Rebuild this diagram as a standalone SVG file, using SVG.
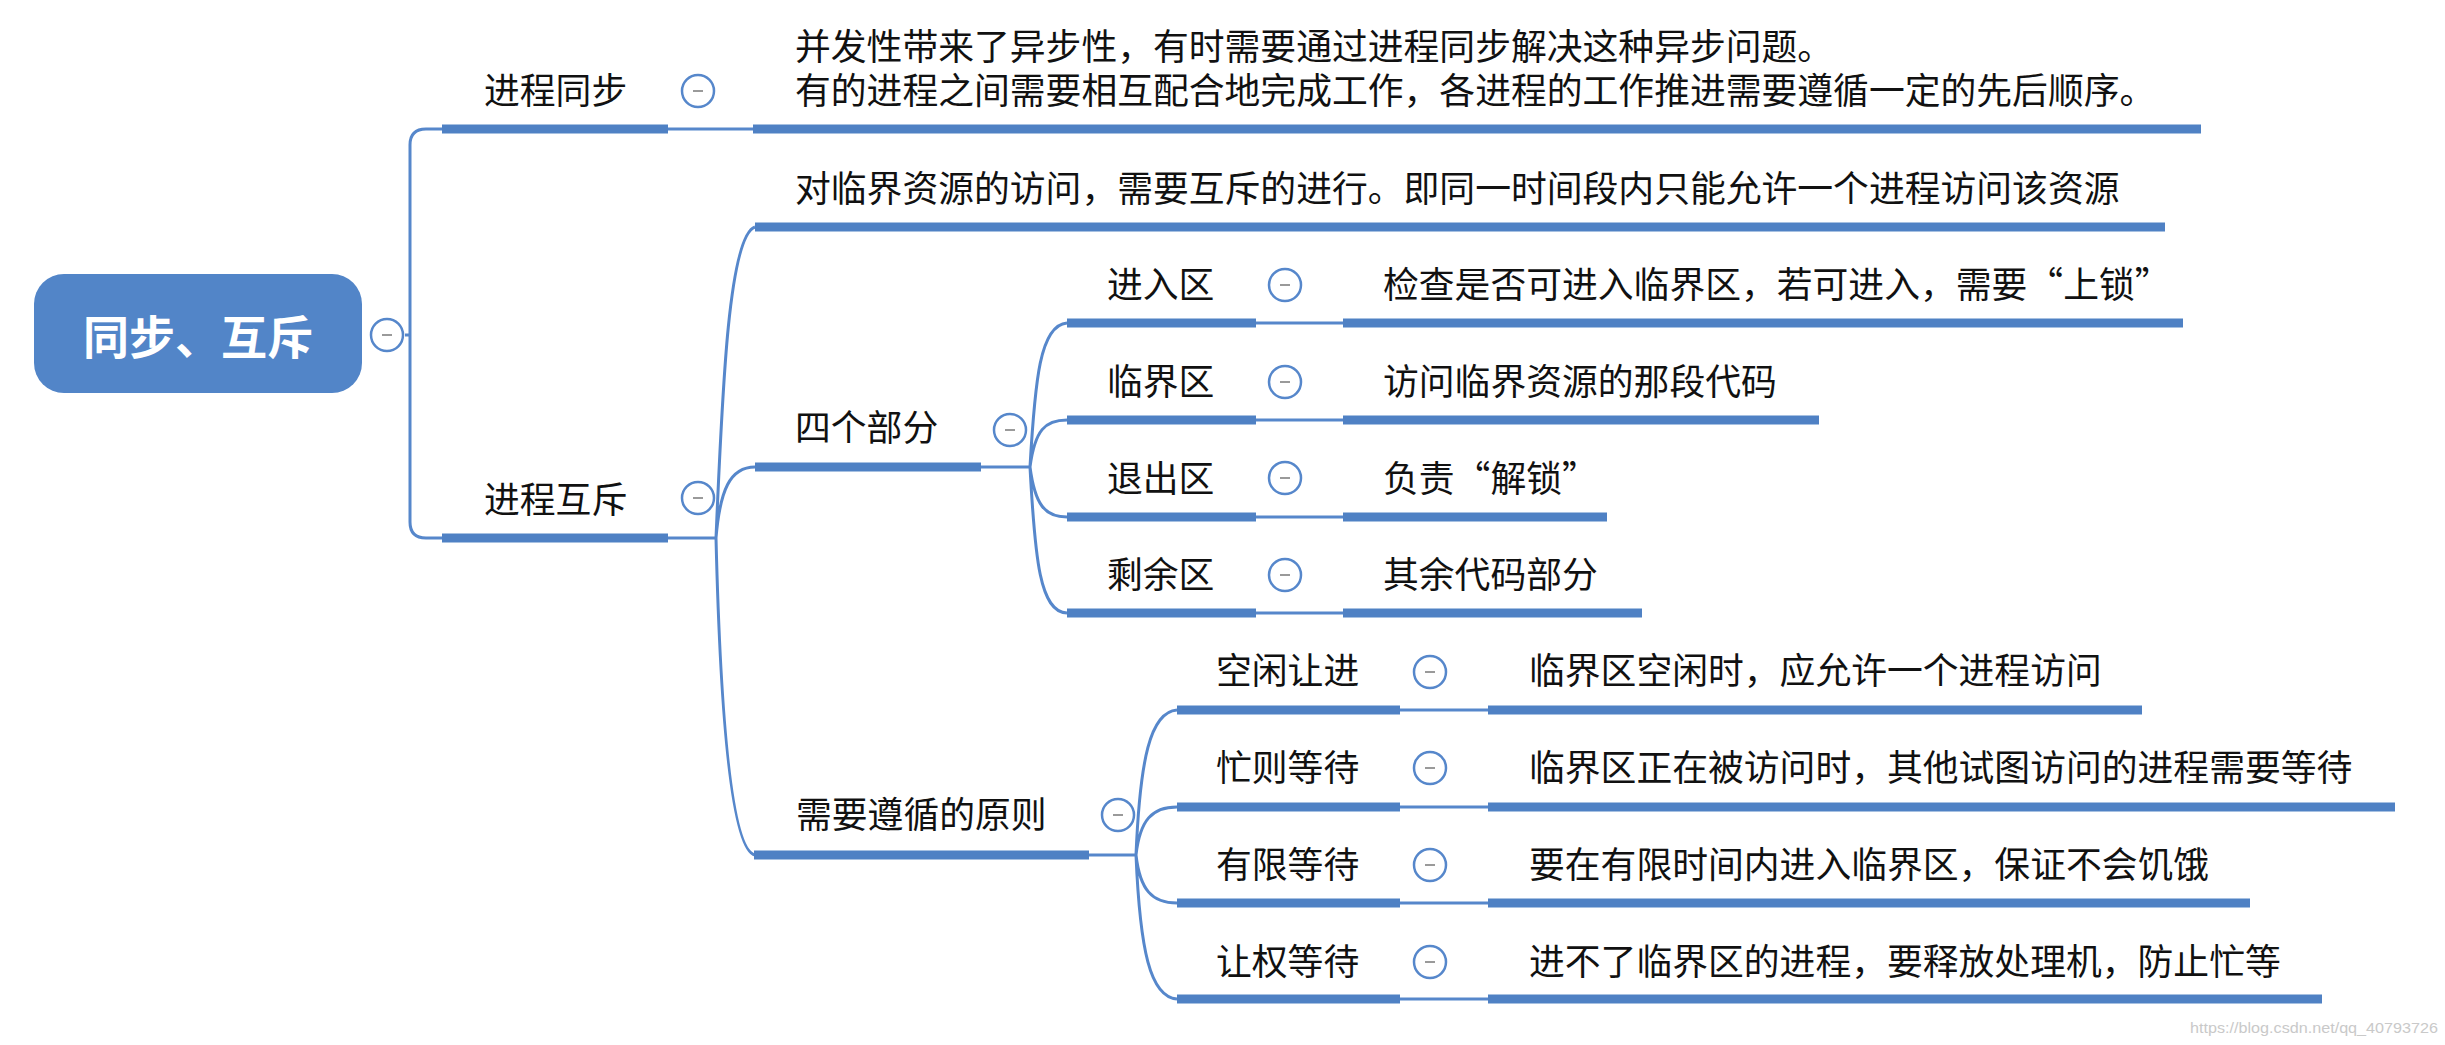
<svg xmlns="http://www.w3.org/2000/svg" width="2445" height="1045" viewBox="0 0 2445 1045">
<style>
.t{font-family:"Noto Sans CJK SC","Noto Sans",sans-serif;font-size:35.8px;fill:#111111}
.root{font-family:"Noto Sans CJK SC","Noto Sans",sans-serif;font-size:46px;font-weight:bold;fill:#ffffff}
.ul{stroke:#4f81c4;stroke-width:9;fill:none}
.c{stroke:#5687cb;stroke-width:3;fill:none}
.tg{fill:#ffffff;stroke:#5687cb;stroke-width:2.5}
.tm{stroke:#9a9a9a;stroke-width:2}
.wm{font-family:"Liberation Sans",sans-serif;font-size:15px;fill:#c9c9c9}
</style>
<defs>
<g id="tog"><circle cx="0" cy="0" r="16" class="tg"/><line x1="-5" y1="0" x2="5" y2="0" class="tm"/></g>
</defs>
<rect width="2445" height="1045" fill="#ffffff"/>
<g id="connectors">
<path class="c" d="M405,335 L410,335 M410,145 Q410,129 426,129 L442,129 M410,145 L410,522 Q410,538 426,538 L442,538"/>
<path class="c" d="M668,129 L753,129"/>
<path class="c" d="M668,538 L716,538 M716,538 C722,400 728,236 755,227 M716,538 C720,490 730,467 755,467 M716,538 C720,700 730,850 755,855"/>
<path class="c" d="M981,467 L1030,467 M1030,467 C1035,380 1040,325 1067,323 M1030,467 C1035,430 1045,420 1067,420 M1030,467 C1035,505 1045,517 1067,517 M1030,467 C1035,560 1040,612 1067,613"/>
<path class="c" d="M1256,323 L1343,323 M1256,420 L1343,420 M1256,517 L1343,517 M1256,613 L1343,613"/>
<path class="c" d="M1089,855 L1136,855 M1136,855 C1140,760 1150,712 1177,710 M1136,855 C1140,820 1152,807 1177,807 M1136,855 C1140,890 1152,903 1177,903 M1136,855 C1140,950 1150,997 1177,999"/>
<path class="c" d="M1400,710 L1488,710 M1400,807 L1488,807 M1400,903 L1488,903 M1400,999 L1488,999"/>
</g>
<g id="root">
<rect x="34" y="274" width="328" height="119" rx="30" ry="30" fill="#5285c8"/>
<text class="root" x="198" y="354" text-anchor="middle">同步、互斥</text>
<use href="#tog" x="387" y="335"/>
</g>
<g id="n-sync">
<text class="t" x="484" y="104">进程同步</text>
<line class="ul" x1="442" y1="129" x2="668" y2="129"/>
<use href="#tog" x="698" y="91"/>
</g>
<g id="n-sync-desc">
<text class="t"><tspan x="795" y="60">并发性带来了异步性，有时需要通过进程同步解决这种异步问题。</tspan><tspan x="795" y="104">有的进程之间需要相互配合地完成工作，各进程的工作推进需要遵循一定的先后顺序。</tspan></text>
<line class="ul" x1="753" y1="129" x2="2201" y2="129"/>
</g>
<g id="n-mutex">
<text class="t" x="484" y="513">进程互斥</text>
<line class="ul" x1="442" y1="538" x2="668" y2="538"/>
<use href="#tog" x="698" y="498"/>
</g>
<g id="n-mutex-desc">
<text class="t" x="795" y="202">对临界资源的访问，需要互斥的进行。即同一时间段内只能允许一个进程访问该资源</text>
<line class="ul" x1="755" y1="227" x2="2165" y2="227"/>
</g>
<g id="n-four">
<text class="t" x="795" y="441">四个部分</text>
<line class="ul" x1="755" y1="467" x2="981" y2="467"/>
<use href="#tog" x="1010" y="430"/>
</g>
<g id="n-entry">
<text class="t" x="1107" y="298">进入区</text>
<line class="ul" x1="1067" y1="323" x2="1256" y2="323"/>
<use href="#tog" x="1285" y="285"/>
</g>
<g id="n-entry-desc">
<text class="t" x="1383" y="298">检查是否可进入临界区，若可进入，需要“上锁”</text>
<line class="ul" x1="1343" y1="323" x2="2183" y2="323"/>
</g>
<g id="n-critical">
<text class="t" x="1107" y="395">临界区</text>
<line class="ul" x1="1067" y1="420" x2="1256" y2="420"/>
<use href="#tog" x="1285" y="382"/>
</g>
<g id="n-critical-desc">
<text class="t" x="1383" y="395">访问临界资源的那段代码</text>
<line class="ul" x1="1343" y1="420" x2="1819" y2="420"/>
</g>
<g id="n-exit">
<text class="t" x="1107" y="492">退出区</text>
<line class="ul" x1="1067" y1="517" x2="1256" y2="517"/>
<use href="#tog" x="1285" y="478"/>
</g>
<g id="n-exit-desc">
<text class="t" x="1383" y="492">负责“解锁”</text>
<line class="ul" x1="1343" y1="517" x2="1607" y2="517"/>
</g>
<g id="n-remainder">
<text class="t" x="1107" y="588">剩余区</text>
<line class="ul" x1="1067" y1="613" x2="1256" y2="613"/>
<use href="#tog" x="1285" y="575"/>
</g>
<g id="n-remainder-desc">
<text class="t" x="1383" y="588">其余代码部分</text>
<line class="ul" x1="1343" y1="613" x2="1642" y2="613"/>
</g>
<g id="n-rules">
<text class="t" x="796" y="828">需要遵循的原则</text>
<line class="ul" x1="754" y1="855" x2="1089" y2="855"/>
<use href="#tog" x="1118" y="815"/>
</g>
<g id="n-idle">
<text class="t" x="1216" y="684">空闲让进</text>
<line class="ul" x1="1177" y1="710" x2="1400" y2="710"/>
<use href="#tog" x="1430" y="672"/>
</g>
<g id="n-idle-desc">
<text class="t" x="1529" y="684">临界区空闲时，应允许一个进程访问</text>
<line class="ul" x1="1488" y1="710" x2="2142" y2="710"/>
</g>
<g id="n-busy">
<text class="t" x="1216" y="781">忙则等待</text>
<line class="ul" x1="1177" y1="807" x2="1400" y2="807"/>
<use href="#tog" x="1430" y="768"/>
</g>
<g id="n-busy-desc">
<text class="t" x="1529" y="781">临界区正在被访问时，其他试图访问的进程需要等待</text>
<line class="ul" x1="1488" y1="807" x2="2395" y2="807"/>
</g>
<g id="n-bounded">
<text class="t" x="1216" y="878">有限等待</text>
<line class="ul" x1="1177" y1="903" x2="1400" y2="903"/>
<use href="#tog" x="1430" y="865"/>
</g>
<g id="n-bounded-desc">
<text class="t" x="1529" y="878">要在有限时间内进入临界区，保证不会饥饿</text>
<line class="ul" x1="1488" y1="903" x2="2250" y2="903"/>
</g>
<g id="n-yield">
<text class="t" x="1216" y="975">让权等待</text>
<line class="ul" x1="1177" y1="999" x2="1400" y2="999"/>
<use href="#tog" x="1430" y="962"/>
</g>
<g id="n-yield-desc">
<text class="t" x="1529" y="975">进不了临界区的进程，要释放处理机，防止忙等</text>
<line class="ul" x1="1488" y1="999" x2="2322" y2="999"/>
</g>
<text class="wm" x="2190" y="1033" textLength="248" lengthAdjust="spacingAndGlyphs">https://blog.csdn.net/qq_40793726</text>
</svg>
